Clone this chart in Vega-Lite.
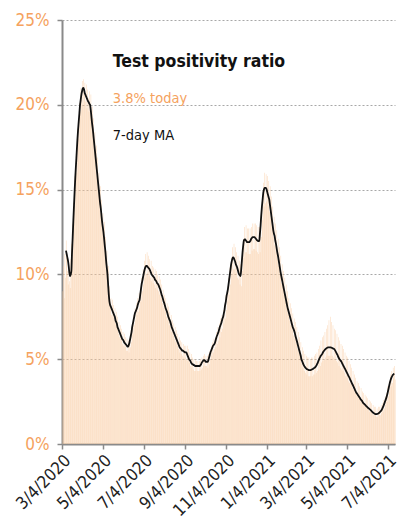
{
"$schema":"https://vega.github.io/schema/vega-lite/v6.json",
"width":333,"height":424,
"autosize":{"type":"none"},
"padding":{"left":62,"top":20,"right":8,"bottom":77},
"background":"white",
"config":{"view":{"stroke":null},"font":"'Liberation Sans Narrow', 'DejaVu Sans Condensed', 'Roboto Condensed', sans-serif"},
"datasets":{"daily":[
{"d":"2020-03-04","v":9.0,"m":null},{"d":"2020-03-05","v":10.5,"m":null},{"d":"2020-03-06","v":8.6,"m":null},{"d":"2020-03-07","v":11.2,"m":null},{"d":"2020-03-08","v":9.8,"m":null},{"d":"2020-03-09","v":12.0,"m":null},{"d":"2020-03-10","v":11.0,"m":11.4},{"d":"2020-03-11","v":10.2,"m":11.2},{"d":"2020-03-12","v":9.4,"m":11.0},{"d":"2020-03-13","v":10.8,"m":10.8},{"d":"2020-03-14","v":9.6,"m":10.5},{"d":"2020-03-15","v":9.2,"m":10.1},{"d":"2020-03-16","v":10.9,"m":9.9},{"d":"2020-03-17","v":11.8,"m":10.0},{"d":"2020-03-18","v":12.5,"m":10.2},{"d":"2020-03-19","v":13.0,"m":11.3},{"d":"2020-03-20","v":14.2,"m":12.2},{"d":"2020-03-21","v":14.0,"m":13.2},{"d":"2020-03-22","v":15.8,"m":14.1},{"d":"2020-03-23","v":16.4,"m":15.0},{"d":"2020-03-24","v":17.1,"m":15.8},{"d":"2020-03-25","v":16.0,"m":16.5},{"d":"2020-03-26","v":18.6,"m":17.2},{"d":"2020-03-27","v":19.2,"m":17.9},{"d":"2020-03-28","v":18.0,"m":18.5},{"d":"2020-03-29","v":20.1,"m":19.0},{"d":"2020-03-30","v":19.6,"m":19.5},{"d":"2020-03-31","v":21.0,"m":20.0},
{"d":"2020-04-01","v":20.6,"m":20.3},{"d":"2020-04-02","v":21.4,"m":20.6},{"d":"2020-04-03","v":20.0,"m":20.8},{"d":"2020-04-04","v":21.5,"m":20.95},{"d":"2020-04-05","v":20.8,"m":21.0},{"d":"2020-04-06","v":21.3,"m":20.9},{"d":"2020-04-07","v":20.2,"m":20.7},{"d":"2020-04-08","v":21.2,"m":20.6},{"d":"2020-04-09","v":19.8,"m":20.5},{"d":"2020-04-10","v":20.9,"m":20.4},{"d":"2020-04-11","v":20.4,"m":20.3},{"d":"2020-04-12","v":19.6,"m":20.2},{"d":"2020-04-13","v":20.8,"m":20.15},{"d":"2020-04-14","v":19.4,"m":20.05},{"d":"2020-04-15","v":20.6,"m":20.0},{"d":"2020-04-16","v":19.0,"m":19.7},{"d":"2020-04-17","v":19.9,"m":19.3},{"d":"2020-04-18","v":18.4,"m":18.9},{"d":"2020-04-19","v":19.2,"m":18.6},{"d":"2020-04-20","v":17.5,"m":18.2},{"d":"2020-04-21","v":18.4,"m":17.8},{"d":"2020-04-22","v":16.9,"m":17.4},{"d":"2020-04-23","v":17.6,"m":17.0},{"d":"2020-04-24","v":15.8,"m":16.6},{"d":"2020-04-25","v":16.9,"m":16.2},{"d":"2020-04-26","v":15.2,"m":15.8},{"d":"2020-04-27","v":16.0,"m":15.4},{"d":"2020-04-28","v":14.3,"m":15.0},{"d":"2020-04-29","v":15.2,"m":14.6},{"d":"2020-04-30","v":13.6,"m":14.2},
{"d":"2020-05-01","v":14.4,"m":13.9},{"d":"2020-05-02","v":12.9,"m":13.5},{"d":"2020-05-03","v":13.6,"m":13.1},{"d":"2020-05-04","v":12.2,"m":12.8},{"d":"2020-05-05","v":13.1,"m":12.5},{"d":"2020-05-06","v":11.6,"m":12.1},{"d":"2020-05-07","v":12.2,"m":11.7},{"d":"2020-05-08","v":10.8,"m":11.3},{"d":"2020-05-09","v":11.4,"m":10.8},{"d":"2020-05-10","v":9.8,"m":10.4},{"d":"2020-05-11","v":10.5,"m":10.0},{"d":"2020-05-12","v":9.0,"m":9.4},{"d":"2020-05-13","v":9.3,"m":8.8},{"d":"2020-05-14","v":8.0,"m":8.4},{"d":"2020-05-15","v":8.6,"m":8.2},{"d":"2020-05-16","v":7.6,"m":8.1},{"d":"2020-05-17","v":8.5,"m":8.0},{"d":"2020-05-18","v":7.5,"m":7.9},{"d":"2020-05-19","v":8.2,"m":7.8},{"d":"2020-05-20","v":7.3,"m":7.7},{"d":"2020-05-21","v":8.0,"m":7.6},{"d":"2020-05-22","v":7.1,"m":7.5},{"d":"2020-05-23","v":7.8,"m":7.3},{"d":"2020-05-24","v":6.9,"m":7.2},{"d":"2020-05-25","v":7.5,"m":7.1},{"d":"2020-05-26","v":6.5,"m":6.9},{"d":"2020-05-27","v":7.2,"m":6.8},{"d":"2020-05-28","v":6.3,"m":6.7},{"d":"2020-05-29","v":7.0,"m":6.6},{"d":"2020-05-30","v":6.2,"m":6.5},{"d":"2020-05-31","v":6.8,"m":6.4},
{"d":"2020-06-01","v":5.9,"m":6.3},{"d":"2020-06-02","v":6.6,"m":6.2},{"d":"2020-06-03","v":5.8,"m":6.15},{"d":"2020-06-04","v":6.5,"m":6.1},{"d":"2020-06-05","v":5.7,"m":6.0},{"d":"2020-06-06","v":6.3,"m":5.95},{"d":"2020-06-07","v":5.5,"m":5.9},{"d":"2020-06-08","v":6.2,"m":5.85},{"d":"2020-06-09","v":5.5,"m":5.8},{"d":"2020-06-10","v":6.1,"m":5.75},{"d":"2020-06-11","v":5.4,"m":5.75},{"d":"2020-06-12","v":6.2,"m":5.85},{"d":"2020-06-13","v":5.7,"m":6.0},{"d":"2020-06-14","v":6.7,"m":6.2},{"d":"2020-06-15","v":6.0,"m":6.4},{"d":"2020-06-16","v":7.1,"m":6.6},{"d":"2020-06-17","v":6.5,"m":6.9},{"d":"2020-06-18","v":7.6,"m":7.1},{"d":"2020-06-19","v":7.0,"m":7.3},{"d":"2020-06-20","v":8.0,"m":7.5},{"d":"2020-06-21","v":7.3,"m":7.7},{"d":"2020-06-22","v":8.3,"m":7.8},{"d":"2020-06-23","v":7.6,"m":7.9},{"d":"2020-06-24","v":8.6,"m":8.0},{"d":"2020-06-25","v":7.8,"m":8.15},{"d":"2020-06-26","v":8.9,"m":8.3},{"d":"2020-06-27","v":8.0,"m":8.4},{"d":"2020-06-28","v":9.2,"m":8.5},{"d":"2020-06-29","v":8.4,"m":8.8},{"d":"2020-06-30","v":9.8,"m":9.1},
{"d":"2020-07-01","v":9.0,"m":9.4},{"d":"2020-07-02","v":10.3,"m":9.6},{"d":"2020-07-03","v":9.4,"m":9.8},{"d":"2020-07-04","v":10.8,"m":10.0},{"d":"2020-07-05","v":9.8,"m":10.2},{"d":"2020-07-06","v":11.2,"m":10.35},{"d":"2020-07-07","v":10.0,"m":10.45},{"d":"2020-07-08","v":11.3,"m":10.5},{"d":"2020-07-09","v":10.1,"m":10.5},{"d":"2020-07-10","v":11.1,"m":10.45},{"d":"2020-07-11","v":9.9,"m":10.4},{"d":"2020-07-12","v":10.9,"m":10.35},{"d":"2020-07-13","v":9.8,"m":10.3},{"d":"2020-07-14","v":10.8,"m":10.2},{"d":"2020-07-15","v":9.6,"m":10.1},{"d":"2020-07-16","v":10.5,"m":10.0},{"d":"2020-07-17","v":9.5,"m":9.95},{"d":"2020-07-18","v":10.4,"m":9.9},{"d":"2020-07-19","v":9.4,"m":9.85},{"d":"2020-07-20","v":10.3,"m":9.8},{"d":"2020-07-21","v":9.2,"m":9.7},{"d":"2020-07-22","v":10.2,"m":9.65},{"d":"2020-07-23","v":9.1,"m":9.6},{"d":"2020-07-24","v":10.0,"m":9.5},{"d":"2020-07-25","v":9.0,"m":9.45},{"d":"2020-07-26","v":9.9,"m":9.4},{"d":"2020-07-27","v":8.8,"m":9.3},{"d":"2020-07-28","v":9.7,"m":9.2},{"d":"2020-07-29","v":8.6,"m":9.1},{"d":"2020-07-30","v":9.4,"m":8.95},{"d":"2020-07-31","v":8.3,"m":8.8},
{"d":"2020-08-01","v":9.1,"m":8.7},{"d":"2020-08-02","v":8.0,"m":8.55},{"d":"2020-08-03","v":8.8,"m":8.4},{"d":"2020-08-04","v":7.8,"m":8.3},{"d":"2020-08-05","v":8.6,"m":8.15},{"d":"2020-08-06","v":7.5,"m":8.0},{"d":"2020-08-07","v":8.3,"m":7.9},{"d":"2020-08-08","v":7.3,"m":7.8},{"d":"2020-08-09","v":8.1,"m":7.65},{"d":"2020-08-10","v":7.0,"m":7.5},{"d":"2020-08-11","v":7.8,"m":7.4},{"d":"2020-08-12","v":6.9,"m":7.3},{"d":"2020-08-13","v":7.6,"m":7.2},{"d":"2020-08-14","v":6.6,"m":7.05},{"d":"2020-08-15","v":7.3,"m":6.9},{"d":"2020-08-16","v":6.4,"m":6.8},{"d":"2020-08-17","v":7.1,"m":6.7},{"d":"2020-08-18","v":6.2,"m":6.6},{"d":"2020-08-19","v":6.9,"m":6.5},{"d":"2020-08-20","v":6.0,"m":6.4},{"d":"2020-08-21","v":6.7,"m":6.3},{"d":"2020-08-22","v":5.8,"m":6.2},{"d":"2020-08-23","v":6.5,"m":6.1},{"d":"2020-08-24","v":5.6,"m":6.0},{"d":"2020-08-25","v":6.3,"m":5.9},{"d":"2020-08-26","v":5.4,"m":5.8},{"d":"2020-08-27","v":6.1,"m":5.7},{"d":"2020-08-28","v":5.3,"m":5.65},{"d":"2020-08-29","v":6.0,"m":5.6},{"d":"2020-08-30","v":5.2,"m":5.55},{"d":"2020-08-31","v":5.9,"m":5.5},
{"d":"2020-09-01","v":5.1,"m":5.5},{"d":"2020-09-02","v":5.8,"m":5.45},{"d":"2020-09-03","v":5.1,"m":5.45},{"d":"2020-09-04","v":5.8,"m":5.4},{"d":"2020-09-05","v":5.0,"m":5.4},{"d":"2020-09-06","v":5.8,"m":5.4},{"d":"2020-09-07","v":4.9,"m":5.3},{"d":"2020-09-08","v":5.6,"m":5.2},{"d":"2020-09-09","v":4.8,"m":5.1},{"d":"2020-09-10","v":5.4,"m":5.0},{"d":"2020-09-11","v":4.6,"m":4.95},{"d":"2020-09-12","v":5.3,"m":4.9},{"d":"2020-09-13","v":4.5,"m":4.8},{"d":"2020-09-14","v":5.1,"m":4.75},{"d":"2020-09-15","v":4.4,"m":4.7},{"d":"2020-09-16","v":5.0,"m":4.7},{"d":"2020-09-17","v":4.3,"m":4.65},{"d":"2020-09-18","v":5.0,"m":4.65},{"d":"2020-09-19","v":4.3,"m":4.6},{"d":"2020-09-20","v":4.9,"m":4.6},{"d":"2020-09-21","v":4.3,"m":4.6},{"d":"2020-09-22","v":4.9,"m":4.6},{"d":"2020-09-23","v":4.3,"m":4.6},{"d":"2020-09-24","v":4.9,"m":4.6},{"d":"2020-09-25","v":4.3,"m":4.6},{"d":"2020-09-26","v":5.0,"m":4.6},{"d":"2020-09-27","v":4.4,"m":4.65},{"d":"2020-09-28","v":5.1,"m":4.7},{"d":"2020-09-29","v":4.5,"m":4.8},{"d":"2020-09-30","v":5.2,"m":4.85},
{"d":"2020-10-01","v":4.6,"m":4.9},{"d":"2020-10-02","v":5.3,"m":4.95},{"d":"2020-10-03","v":4.6,"m":4.95},{"d":"2020-10-04","v":5.2,"m":4.9},{"d":"2020-10-05","v":4.6,"m":4.85},{"d":"2020-10-06","v":5.2,"m":4.85},{"d":"2020-10-07","v":4.5,"m":4.85},{"d":"2020-10-08","v":5.3,"m":4.85},{"d":"2020-10-09","v":4.7,"m":4.95},{"d":"2020-10-10","v":5.5,"m":5.1},{"d":"2020-10-11","v":5.0,"m":5.25},{"d":"2020-10-12","v":5.8,"m":5.4},{"d":"2020-10-13","v":5.2,"m":5.5},{"d":"2020-10-14","v":6.0,"m":5.6},{"d":"2020-10-15","v":5.4,"m":5.7},{"d":"2020-10-16","v":6.2,"m":5.8},{"d":"2020-10-17","v":5.6,"m":5.85},{"d":"2020-10-18","v":6.3,"m":5.9},{"d":"2020-10-19","v":5.7,"m":6.0},{"d":"2020-10-20","v":6.6,"m":6.15},{"d":"2020-10-21","v":5.9,"m":6.3},{"d":"2020-10-22","v":6.9,"m":6.4},{"d":"2020-10-23","v":6.1,"m":6.5},{"d":"2020-10-24","v":7.1,"m":6.6},{"d":"2020-10-25","v":6.3,"m":6.75},{"d":"2020-10-26","v":7.4,"m":6.9},{"d":"2020-10-27","v":6.6,"m":7.0},{"d":"2020-10-28","v":7.6,"m":7.1},{"d":"2020-10-29","v":6.8,"m":7.25},{"d":"2020-10-30","v":7.9,"m":7.4},{"d":"2020-10-31","v":7.1,"m":7.5},
{"d":"2020-11-01","v":8.2,"m":7.7},{"d":"2020-11-02","v":7.4,"m":7.9},{"d":"2020-11-03","v":8.8,"m":8.2},{"d":"2020-11-04","v":7.9,"m":8.4},{"d":"2020-11-05","v":9.3,"m":8.7},{"d":"2020-11-06","v":8.4,"m":8.9},{"d":"2020-11-07","v":9.8,"m":9.1},{"d":"2020-11-08","v":8.8,"m":9.4},{"d":"2020-11-09","v":10.4,"m":9.7},{"d":"2020-11-10","v":9.4,"m":10.0},{"d":"2020-11-11","v":11.0,"m":10.3},{"d":"2020-11-12","v":10.0,"m":10.6},{"d":"2020-11-13","v":11.6,"m":10.8},{"d":"2020-11-14","v":10.3,"m":10.95},{"d":"2020-11-15","v":11.8,"m":11.0},{"d":"2020-11-16","v":10.3,"m":10.95},{"d":"2020-11-17","v":11.6,"m":10.85},{"d":"2020-11-18","v":10.1,"m":10.75},{"d":"2020-11-19","v":11.3,"m":10.6},{"d":"2020-11-20","v":9.8,"m":10.5},{"d":"2020-11-21","v":11.1,"m":10.4},{"d":"2020-11-22","v":9.7,"m":10.25},{"d":"2020-11-23","v":10.8,"m":10.1},{"d":"2020-11-24","v":9.4,"m":10.0},{"d":"2020-11-25","v":10.6,"m":9.95},{"d":"2020-11-26","v":9.3,"m":9.9},{"d":"2020-11-27","v":11.0,"m":10.3},{"d":"2020-11-28","v":10.2,"m":10.8},{"d":"2020-11-29","v":12.1,"m":11.3},{"d":"2020-11-30","v":11.0,"m":11.7},
{"d":"2020-12-01","v":12.8,"m":12.0},{"d":"2020-12-02","v":11.3,"m":12.06},{"d":"2020-12-03","v":12.9,"m":12.06},{"d":"2020-12-04","v":11.3,"m":12.0},{"d":"2020-12-05","v":12.7,"m":11.95},{"d":"2020-12-06","v":11.2,"m":11.9},{"d":"2020-12-07","v":12.7,"m":11.9},{"d":"2020-12-08","v":11.2,"m":11.9},{"d":"2020-12-09","v":12.7,"m":11.9},{"d":"2020-12-10","v":11.2,"m":11.95},{"d":"2020-12-11","v":12.8,"m":12.0},{"d":"2020-12-12","v":11.4,"m":12.1},{"d":"2020-12-13","v":13.0,"m":12.15},{"d":"2020-12-14","v":11.5,"m":12.2},{"d":"2020-12-15","v":13.0,"m":12.2},{"d":"2020-12-16","v":11.5,"m":12.2},{"d":"2020-12-17","v":13.0,"m":12.2},{"d":"2020-12-18","v":11.4,"m":12.15},{"d":"2020-12-19","v":12.9,"m":12.1},{"d":"2020-12-20","v":11.3,"m":12.05},{"d":"2020-12-21","v":12.8,"m":12.0},{"d":"2020-12-22","v":11.2,"m":11.97},{"d":"2020-12-23","v":12.8,"m":11.96},{"d":"2020-12-24","v":11.3,"m":12.0},{"d":"2020-12-25","v":13.3,"m":12.4},{"d":"2020-12-26","v":12.2,"m":12.9},{"d":"2020-12-27","v":14.4,"m":13.5},{"d":"2020-12-28","v":13.2,"m":14.0},{"d":"2020-12-29","v":15.4,"m":14.4},{"d":"2020-12-30","v":14.0,"m":14.8},{"d":"2020-12-31","v":16.0,"m":15.0},
{"d":"2021-01-01","v":14.2,"m":15.1},{"d":"2021-01-02","v":15.9,"m":15.1},{"d":"2021-01-03","v":14.3,"m":15.1},{"d":"2021-01-04","v":15.8,"m":15.0},{"d":"2021-01-05","v":14.0,"m":14.85},{"d":"2021-01-06","v":15.5,"m":14.7},{"d":"2021-01-07","v":13.7,"m":14.55},{"d":"2021-01-08","v":15.2,"m":14.4},{"d":"2021-01-09","v":13.3,"m":14.1},{"d":"2021-01-10","v":14.6,"m":13.8},{"d":"2021-01-11","v":12.8,"m":13.5},{"d":"2021-01-12","v":14.0,"m":13.2},{"d":"2021-01-13","v":12.2,"m":12.9},{"d":"2021-01-14","v":13.4,"m":12.6},{"d":"2021-01-15","v":11.7,"m":12.4},{"d":"2021-01-16","v":13.0,"m":12.25},{"d":"2021-01-17","v":11.3,"m":12.0},{"d":"2021-01-18","v":12.6,"m":11.8},{"d":"2021-01-19","v":10.9,"m":11.55},{"d":"2021-01-20","v":12.1,"m":11.3},{"d":"2021-01-21","v":10.5,"m":11.1},{"d":"2021-01-22","v":11.6,"m":10.85},{"d":"2021-01-23","v":10.0,"m":10.6},{"d":"2021-01-24","v":11.1,"m":10.35},{"d":"2021-01-25","v":9.5,"m":10.1},{"d":"2021-01-26","v":10.6,"m":9.9},{"d":"2021-01-27","v":9.3,"m":9.7},{"d":"2021-01-28","v":10.2,"m":9.5},{"d":"2021-01-29","v":8.8,"m":9.3},{"d":"2021-01-30","v":9.8,"m":9.1},{"d":"2021-01-31","v":8.4,"m":8.9},
{"d":"2021-02-01","v":9.4,"m":8.7},{"d":"2021-02-02","v":8.0,"m":8.5},{"d":"2021-02-03","v":9.0,"m":8.3},{"d":"2021-02-04","v":7.6,"m":8.1},{"d":"2021-02-05","v":8.6,"m":7.94},{"d":"2021-02-06","v":7.3,"m":7.8},{"d":"2021-02-07","v":8.3,"m":7.65},{"d":"2021-02-08","v":7.0,"m":7.5},{"d":"2021-02-09","v":8.0,"m":7.35},{"d":"2021-02-10","v":6.7,"m":7.2},{"d":"2021-02-11","v":7.7,"m":7.05},{"d":"2021-02-12","v":6.4,"m":6.9},{"d":"2021-02-13","v":7.4,"m":6.8},{"d":"2021-02-14","v":6.2,"m":6.7},{"d":"2021-02-15","v":7.2,"m":6.57},{"d":"2021-02-16","v":5.9,"m":6.4},{"d":"2021-02-17","v":6.9,"m":6.25},{"d":"2021-02-18","v":5.6,"m":6.1},{"d":"2021-02-19","v":6.6,"m":5.95},{"d":"2021-02-20","v":5.4,"m":5.8},{"d":"2021-02-21","v":6.3,"m":5.65},{"d":"2021-02-22","v":5.1,"m":5.5},{"d":"2021-02-23","v":6.0,"m":5.35},{"d":"2021-02-24","v":4.8,"m":5.2},{"d":"2021-02-25","v":5.7,"m":5.0},{"d":"2021-02-26","v":4.5,"m":4.9},{"d":"2021-02-27","v":5.5,"m":4.8},{"d":"2021-02-28","v":4.3,"m":4.7},
{"d":"2021-03-01","v":5.3,"m":4.62},{"d":"2021-03-02","v":4.2,"m":4.55},{"d":"2021-03-03","v":5.2,"m":4.5},{"d":"2021-03-04","v":4.1,"m":4.46},{"d":"2021-03-05","v":5.1,"m":4.42},{"d":"2021-03-06","v":4.0,"m":4.4},{"d":"2021-03-07","v":5.1,"m":4.38},{"d":"2021-03-08","v":4.0,"m":4.36},{"d":"2021-03-09","v":5.0,"m":4.35},{"d":"2021-03-10","v":4.0,"m":4.35},{"d":"2021-03-11","v":5.1,"m":4.36},{"d":"2021-03-12","v":4.0,"m":4.38},{"d":"2021-03-13","v":5.1,"m":4.4},{"d":"2021-03-14","v":4.1,"m":4.42},{"d":"2021-03-15","v":5.2,"m":4.45},{"d":"2021-03-16","v":4.1,"m":4.48},{"d":"2021-03-17","v":5.3,"m":4.5},{"d":"2021-03-18","v":4.2,"m":4.55},{"d":"2021-03-19","v":5.4,"m":4.6},{"d":"2021-03-20","v":4.3,"m":4.67},{"d":"2021-03-21","v":5.6,"m":4.75},{"d":"2021-03-22","v":4.4,"m":4.85},{"d":"2021-03-23","v":5.8,"m":4.95},{"d":"2021-03-24","v":4.6,"m":5.05},{"d":"2021-03-25","v":6.1,"m":5.12},{"d":"2021-03-26","v":4.8,"m":5.2},{"d":"2021-03-27","v":6.3,"m":5.25},{"d":"2021-03-28","v":4.9,"m":5.3},{"d":"2021-03-29","v":6.4,"m":5.38},{"d":"2021-03-30","v":5.0,"m":5.45},{"d":"2021-03-31","v":6.6,"m":5.5},
{"d":"2021-04-01","v":5.1,"m":5.55},{"d":"2021-04-02","v":6.8,"m":5.6},{"d":"2021-04-03","v":5.2,"m":5.63},{"d":"2021-04-04","v":7.0,"m":5.66},{"d":"2021-04-05","v":5.2,"m":5.68},{"d":"2021-04-06","v":7.3,"m":5.7},{"d":"2021-04-07","v":5.2,"m":5.7},{"d":"2021-04-08","v":7.5,"m":5.7},{"d":"2021-04-09","v":5.2,"m":5.7},{"d":"2021-04-10","v":7.2,"m":5.69},{"d":"2021-04-11","v":5.2,"m":5.68},{"d":"2021-04-12","v":7.0,"m":5.66},{"d":"2021-04-13","v":5.1,"m":5.64},{"d":"2021-04-14","v":6.8,"m":5.62},{"d":"2021-04-15","v":5.0,"m":5.6},{"d":"2021-04-16","v":6.7,"m":5.55},{"d":"2021-04-17","v":4.9,"m":5.48},{"d":"2021-04-18","v":6.5,"m":5.4},{"d":"2021-04-19","v":4.8,"m":5.32},{"d":"2021-04-20","v":6.3,"m":5.25},{"d":"2021-04-21","v":4.6,"m":5.15},{"d":"2021-04-22","v":6.1,"m":5.07},{"d":"2021-04-23","v":4.5,"m":5.0},{"d":"2021-04-24","v":5.9,"m":4.95},{"d":"2021-04-25","v":4.4,"m":4.9},{"d":"2021-04-26","v":5.8,"m":4.84},{"d":"2021-04-27","v":4.3,"m":4.76},{"d":"2021-04-28","v":5.6,"m":4.68},{"d":"2021-04-29","v":4.2,"m":4.6},{"d":"2021-04-30","v":5.4,"m":4.52},
{"d":"2021-05-01","v":4.0,"m":4.45},{"d":"2021-05-02","v":5.2,"m":4.37},{"d":"2021-05-03","v":3.9,"m":4.29},{"d":"2021-05-04","v":5.1,"m":4.21},{"d":"2021-05-05","v":3.7,"m":4.13},{"d":"2021-05-06","v":4.9,"m":4.05},{"d":"2021-05-07","v":3.6,"m":3.97},{"d":"2021-05-08","v":4.7,"m":3.9},{"d":"2021-05-09","v":3.5,"m":3.8},{"d":"2021-05-10","v":4.5,"m":3.72},{"d":"2021-05-11","v":3.3,"m":3.63},{"d":"2021-05-12","v":4.3,"m":3.55},{"d":"2021-05-13","v":3.2,"m":3.47},{"d":"2021-05-14","v":4.1,"m":3.38},{"d":"2021-05-15","v":3.0,"m":3.29},{"d":"2021-05-16","v":3.9,"m":3.2},{"d":"2021-05-17","v":2.9,"m":3.12},{"d":"2021-05-18","v":3.7,"m":3.04},{"d":"2021-05-19","v":2.8,"m":2.98},{"d":"2021-05-20","v":3.6,"m":2.92},{"d":"2021-05-21","v":2.7,"m":2.86},{"d":"2021-05-22","v":3.4,"m":2.8},{"d":"2021-05-23","v":2.6,"m":2.74},{"d":"2021-05-24","v":3.3,"m":2.68},{"d":"2021-05-25","v":2.5,"m":2.62},{"d":"2021-05-26","v":3.1,"m":2.57},{"d":"2021-05-27","v":2.4,"m":2.52},{"d":"2021-05-28","v":3.0,"m":2.45},{"d":"2021-05-29","v":2.3,"m":2.4},{"d":"2021-05-30","v":2.9,"m":2.36},{"d":"2021-05-31","v":2.2,"m":2.32},
{"d":"2021-06-01","v":2.8,"m":2.28},{"d":"2021-06-02","v":2.1,"m":2.24},{"d":"2021-06-03","v":2.7,"m":2.2},{"d":"2021-06-04","v":2.0,"m":2.16},{"d":"2021-06-05","v":2.6,"m":2.12},{"d":"2021-06-06","v":1.9,"m":2.09},{"d":"2021-06-07","v":2.5,"m":2.06},{"d":"2021-06-08","v":1.9,"m":2.02},{"d":"2021-06-09","v":2.4,"m":1.98},{"d":"2021-06-10","v":1.8,"m":1.94},{"d":"2021-06-11","v":2.3,"m":1.9},{"d":"2021-06-12","v":1.7,"m":1.86},{"d":"2021-06-13","v":2.2,"m":1.83},{"d":"2021-06-14","v":1.7,"m":1.8},{"d":"2021-06-15","v":2.2,"m":1.78},{"d":"2021-06-16","v":1.6,"m":1.76},{"d":"2021-06-17","v":2.1,"m":1.76},{"d":"2021-06-18","v":1.6,"m":1.77},{"d":"2021-06-19","v":2.2,"m":1.78},{"d":"2021-06-20","v":1.7,"m":1.8},{"d":"2021-06-21","v":2.2,"m":1.83},{"d":"2021-06-22","v":1.7,"m":1.87},{"d":"2021-06-23","v":2.3,"m":1.91},{"d":"2021-06-24","v":1.8,"m":1.95},{"d":"2021-06-25","v":2.4,"m":2.0},{"d":"2021-06-26","v":1.9,"m":2.08},{"d":"2021-06-27","v":2.6,"m":2.17},{"d":"2021-06-28","v":2.1,"m":2.27},{"d":"2021-06-29","v":2.8,"m":2.38},{"d":"2021-06-30","v":2.3,"m":2.5},
{"d":"2021-07-01","v":3.0,"m":2.6},{"d":"2021-07-02","v":2.5,"m":2.72},{"d":"2021-07-03","v":3.4,"m":2.86},{"d":"2021-07-04","v":2.8,"m":3.02},{"d":"2021-07-05","v":3.7,"m":3.2},{"d":"2021-07-06","v":3.1,"m":3.38},{"d":"2021-07-07","v":4.1,"m":3.56},{"d":"2021-07-08","v":3.4,"m":3.72},{"d":"2021-07-09","v":4.3,"m":3.84},{"d":"2021-07-10","v":3.6,"m":3.94},{"d":"2021-07-11","v":4.5,"m":4.02},{"d":"2021-07-12","v":3.9,"m":4.08},{"d":"2021-07-13","v":4.6,"m":4.12},{"d":"2021-07-14","v":3.8,"m":4.15}
]},
"layer":[
{"data":{"name":"daily"},
 "mark":{"type":"bar","color":"#F9C89B","opacity":0.8,"binSpacing":0,"width":{"band":0.7}},
 "encoding":{
  "x":{"field":"d","type":"temporal","timeUnit":"utcyearmonthdate","title":null,
   "scale":{"domain":[{"year":2020,"month":3,"date":4,"utc":true},{"year":2021,"month":7,"date":15,"utc":true}]},
   "axis":{"values":[{"year":2020,"month":3,"date":4,"utc":true},{"year":2020,"month":5,"date":4,"utc":true},{"year":2020,"month":7,"date":4,"utc":true},{"year":2020,"month":9,"date":4,"utc":true},{"year":2020,"month":11,"date":4,"utc":true},{"year":2021,"month":1,"date":4,"utc":true},{"year":2021,"month":3,"date":4,"utc":true},{"year":2021,"month":5,"date":4,"utc":true},{"year":2021,"month":7,"date":4,"utc":true}],
   "labelExpr":"utcFormat(datum.value, '%-m/%-d/%Y')","labelAngle":-45,"labelAlign":"right","labelBaseline":"top","labelFontSize":17,"labelColor":"#222222","labelPadding":3,
   "tickColor":"#8a8a8a","tickSize":5,"tickWidth":1.5,"domainColor":"#8a8a8a","domainWidth":2,"grid":false,"labelOverlap":false,"labelFlush":false,"labelBound":false}},
  "y":{"field":"v","type":"quantitative","title":null,
  "scale":{"domain":[0,25],"nice":false},
  "axis":{"values":[0,5,10,15,20,25],"labelExpr":"datum.value + '%'","labelColor":"#F5A25E","labelFontSize":17,"labelPadding":8,
   "tickColor":"#8a8a8a","tickSize":5,"tickWidth":1.5,"domainColor":"#8a8a8a","domainWidth":2,
   "grid":true,"gridColor":"#a8a8a8","gridDash":[2,2],"gridWidth":1}}}},
{"data":{"name":"daily"},
 "transform":[{"filter":"datum.m != null"}],
 "mark":{"type":"line","color":"#111111","strokeWidth":1.8,"interpolate":"monotone"},
 "encoding":{"x":{"field":"d","type":"temporal","timeUnit":"utcyearmonthdate"},"y":{"field":"m","type":"quantitative"}}},
{"data":{"values":[{"t":"Test positivity ratio"}]},
 "mark":{"type":"text","align":"left","baseline":"alphabetic","fontSize":17.5,"fontWeight":"bold","color":"#111111"},
 "encoding":{"x":{"datum":{"year":2020,"month":5,"date":19,"utc":true},"type":"temporal"},"y":{"datum":22.2,"type":"quantitative"},"text":{"field":"t"}}},
{"data":{"values":[{"t":"3.8% today"}]},
 "mark":{"type":"text","align":"left","baseline":"alphabetic","fontSize":14.5,"color":"#F5A25E"},
 "encoding":{"x":{"datum":{"year":2020,"month":5,"date":19,"utc":true},"type":"temporal"},"y":{"datum":20.1,"type":"quantitative"},"text":{"field":"t"}}},
{"data":{"values":[{"t":"7-day MA"}]},
 "mark":{"type":"text","align":"left","baseline":"alphabetic","fontSize":14.5,"color":"#111111"},
 "encoding":{"x":{"datum":{"year":2020,"month":5,"date":19,"utc":true},"type":"temporal"},"y":{"datum":17.9,"type":"quantitative"},"text":{"field":"t"}}}
]
}
